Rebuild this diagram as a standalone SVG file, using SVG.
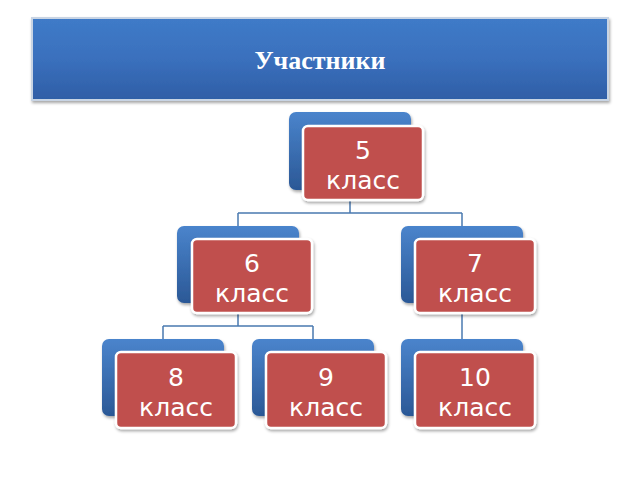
<svg xmlns="http://www.w3.org/2000/svg" width="640" height="480" viewBox="0 0 640 480">
<defs>
<linearGradient id="tg" x1="0" y1="0" x2="0" y2="1"><stop offset="0" stop-color="#3f7bc8"/><stop offset="0.5" stop-color="#3a70bd"/><stop offset="1" stop-color="#2f5ea6"/></linearGradient>
<linearGradient id="bg" x1="0" y1="0" x2="0" y2="1"><stop offset="0" stop-color="#4a84cc"/><stop offset="1" stop-color="#2b5896"/></linearGradient>
<filter id="sh" x="-10%" y="-10%" width="130%" height="130%"><feDropShadow dx="1" dy="2" stdDeviation="1.5" flood-color="#000" flood-opacity="0.35"/></filter>
</defs>
<style>
.b{fill:url(#bg);filter:url(#sh)}
.r{fill:#c0504d;stroke:#fff;stroke-width:2.5;filter:url(#sh)}
.t{font-family:"DejaVu Sans","Noto Sans",sans-serif;font-size:25px;fill:#fff;text-anchor:middle}
.c{fill:none;stroke:#4a7ab0;stroke-width:1.5}
</style>
<rect width="640" height="480" fill="#fff"/>
<rect x="32" y="18" width="576" height="82" fill="url(#tg)" stroke="#c8d4e4" stroke-width="2" filter="url(#sh)"/>
<text x="320" y="69" font-family="Liberation Serif,serif" font-weight="bold" font-size="26" fill="#fff" text-anchor="middle">Участники</text>
<g id="connectors">
<path class="c" d="M350 200V213M238 213H462M238 213V226M462 213V226"/>
<path class="c" d="M238 313V326M163 326H313M163 326V339M313 326V339"/>
<path class="c" d="M462 313V339"/>
</g>
<g id="n5"><rect class="b" x="289" y="112" width="122" height="78" rx="7"/><rect class="r" x="303" y="126" width="120" height="74" rx="5"/><text class="t" x="363" y="159">5</text><text class="t" x="363" y="189">класс</text></g>
<g id="n6"><rect class="b" x="177" y="226" width="122" height="77" rx="7"/><rect class="r" x="192" y="239" width="120" height="74" rx="5"/><text class="t" x="252" y="272">6</text><text class="t" x="252" y="302">класс</text></g>
<g id="n7"><rect class="b" x="401" y="226" width="122" height="77" rx="7"/><rect class="r" x="415" y="239" width="120" height="74" rx="5"/><text class="t" x="475" y="272">7</text><text class="t" x="475" y="302">класс</text></g>
<g id="n8"><rect class="b" x="102" y="339" width="122" height="77" rx="7"/><rect class="r" x="116" y="352" width="120" height="76" rx="5"/><text class="t" x="176" y="386">8</text><text class="t" x="176" y="416">класс</text></g>
<g id="n9"><rect class="b" x="252" y="339" width="122" height="77" rx="7"/><rect class="r" x="266" y="352" width="120" height="76" rx="5"/><text class="t" x="326" y="386">9</text><text class="t" x="326" y="416">класс</text></g>
<g id="n10"><rect class="b" x="401" y="339" width="122" height="77" rx="7"/><rect class="r" x="415" y="352" width="120" height="76" rx="5"/><text class="t" x="475" y="386">10</text><text class="t" x="475" y="416">класс</text></g>
</svg>
